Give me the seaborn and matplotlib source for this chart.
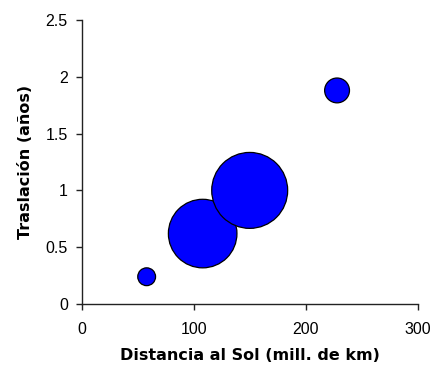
import matplotlib
matplotlib.use("Agg")
import matplotlib.pyplot as plt
import seaborn as sns
import pandas as pd

# Inner planets: distance to the Sun, orbital period and mass (Earth = 1)
planetas = ["Mercurio", "Venus", "Tierra", "Marte"]
distancia = [58, 108, 150, 228]
traslacion = [0.24, 0.62, 1.0, 1.88]
masa = [0.055, 0.815, 1.0, 0.107]

df = pd.DataFrame({"planeta": planetas, "distancia": distancia,
                   "traslacion": traslacion, "masa": masa})

sns.set_style("white")
plt.rcParams["font.family"] = ["Liberation Sans", "DejaVu Sans"]

fig = plt.figure(figsize=(4.33, 3.75), dpi=100)
ax = fig.add_axes([81.7 / 433, 71 / 375, (417.7 - 81.7) / 433, (304 - 20) / 375])

# bubble area proportional to mass
sns.scatterplot(data=df, x="distancia", y="traslacion", size="masa",
                size_norm=(0, 1), sizes=(0, 2990), color="#0000FF",
                edgecolor="black", linewidth=0.9, alpha=1, legend=False,
                ax=ax, zorder=3, clip_on=False)

ax.set_xlim(0, 300)
ax.set_ylim(0, 2.5)
ax.set_xticks([0, 100, 200, 300])
ax.set_yticks([0, 0.5, 1, 1.5, 2, 2.5])
ax.set_yticklabels(["0", "0.5", "1", "1.5", "2", "2.5"])

for side in ["top", "right"]:
    ax.spines[side].set_visible(False)
for side in ["left", "bottom"]:
    ax.spines[side].set_color("#222222")
    ax.spines[side].set_linewidth(1.0)

ax.tick_params(axis="both", which="major", direction="out", length=4,
               width=1.0, color="#222222", labelsize=11.5, labelcolor="black",
               left=True, bottom=True)
ax.tick_params(axis="x", pad=9)
ax.tick_params(axis="y", pad=6)

label_font = dict(family=["DejaVu Sans"], fontsize=11.5, fontweight="bold",
                  color="black")
ax.set_xlabel("Distancia al Sol (mill. de km)", labelpad=8, **label_font)
ax.set_ylabel("Traslación (años)", labelpad=9, **label_font)
ax.grid(False)

fig.savefig("out.png", dpi=100, facecolor="white")
